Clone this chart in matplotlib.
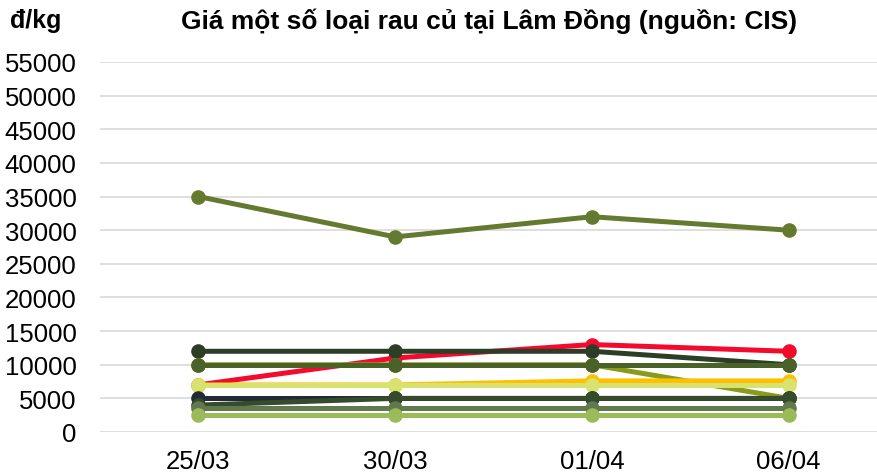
import numpy as np
import matplotlib.pyplot as plt

plt.rcParams['font.family'] = ['Liberation Sans', 'DejaVu Sans']

# data (VND per kg)
dates = ["25/03", "30/03", "01/04", "06/04"]
olive_vals = [35000, 29000, 32000, 30000]
red_vals = [7000, 11000, 13000, 12000]
dark_vals = [12000, 12000, 12000, 10000]
olive_yellow_vals = [10000, 10000, 10000, 5000]
green_vals = [10000, 10000, 10000, 10000]
orange_vals = [7000, 7000, 7600, 7600]
light_yellow_vals = [7000, 7000, 7000, 7000]
navy_vals = [5000, 5000, 5000, 5000]
dark_green_vals = [4000, 5000, 5000, 5000]
gray_green_vals = [3500, 3500, 3500, 3500]
light_green_vals = [2500, 2500, 2500, 2500]

# draw order matters: later series sit on top
series = [
    (olive_vals, '#637a2f'),
    (red_vals, '#f40a2c'),
    (dark_vals, '#2d3e26'),
    (olive_yellow_vals, '#8a9a1b'),
    (green_vals, '#4a6128'),
    (orange_vals, '#ffc000'),
    (light_yellow_vals, '#d7e36e'),
    (navy_vals, '#222a35'),
    (dark_green_vals, '#364b2b'),
    (gray_green_vals, '#62784f'),
    (light_green_vals, '#9bbb59'),
]

fig = plt.figure(figsize=(8.78, 4.77), dpi=100)
ax = fig.add_axes([100 / 878, 44 / 477, 787 / 878, 370 / 477])

x = np.arange(len(dates))
for vals, col in series:
    ax.plot(x, vals, color=col, lw=3.6, marker='o', markersize=10.5,
            markeredgewidth=0, solid_capstyle='round', clip_on=False)

ax.set_xlim(-0.5, 3.5)
ax.set_ylim(0, 55000)
ax.set_yticks(np.arange(0, 55001, 5000))
ax.set_xticks(x)
ax.set_xticklabels(dates)
ax.yaxis.grid(True, color='#d9d9d9', lw=1.2)
ax.set_axisbelow(True)
for s in ax.spines.values():
    s.set_visible(False)
ax.tick_params(axis='both', length=0, labelsize=18.5, colors='#000000')
ax.tick_params(axis='y', pad=17)
ax.tick_params(axis='x', pad=12)

fig.text(489 / 878, 1 - 21 / 477, "Giá một số loại rau củ tại Lâm Đồng (nguồn: CIS)",
         ha='center', va='center', fontsize=19, fontweight='bold')
fig.text(10 / 878, 1 - 21 / 477, "đ/kg", ha='left', va='center',
         fontsize=18, fontweight='bold')

fig.savefig("out.png", dpi=100)
